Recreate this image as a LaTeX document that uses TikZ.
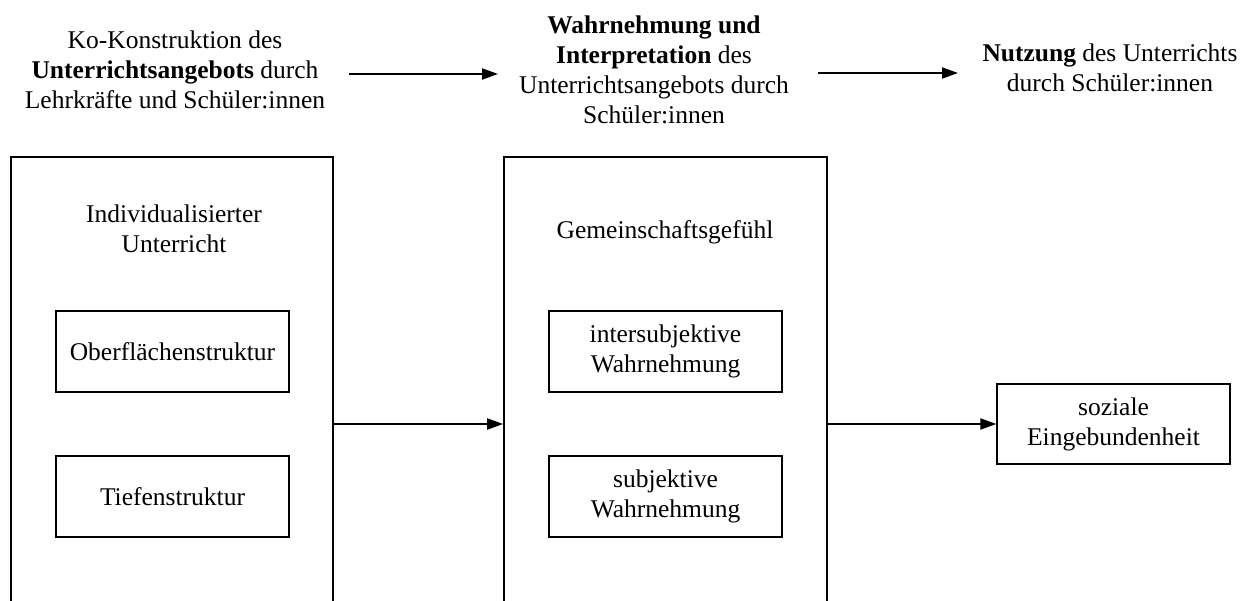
\documentclass[tikz,border=0pt]{standalone}
\usepackage{fontspec}
\setmainfont{Liberation Serif}
\usetikzlibrary{arrows.meta}
\begin{document}
\begin{tikzpicture}[x=1pt,y=-1pt,
  txt/.style={align=center,inner sep=0pt,font=\fontsize{25.5}{30}\selectfont},
  outerbox/.style={draw,line width=1.6pt,minimum width=322pt,minimum height=534pt,inner sep=0pt},
  innerbox/.style={draw,line width=1.3pt,minimum width=233pt,minimum height=81pt,inner sep=0pt,
    align=center,font=\fontsize{25.5}{30}\selectfont},
  arr/.style={line width=2pt,-{Triangle[length=16pt,width=11pt]}}]
\useasboundingbox (0,0) rectangle (1255,601);
\clip (0,0) rectangle (1255,601);

% phase headings
\node[txt] (t1) at (175,70) {Ko-Konstruktion des\\\textbf{Unterrichtsangebots} durch\\Lehrkräfte und Schüler:innen};
\node[txt] (t2) at (654,70) {\textbf{Wahrnehmung und}\\\textbf{Interpretation} des\\Unterrichtsangebots durch\\Schüler:innen};
\node[txt] (t3) at (1110,68) {\textbf{Nutzung} des Unterrichts\\durch Schüler:innen};

\coordinate (a1s) at (349,74);
\coordinate (a1e) at (498,74);
\coordinate (a2s) at (818,73);
\coordinate (a2e) at (958,73);
\draw[arr] (a1s) -- (a1e);
\draw[arr] (a2s) -- (a2e);

% columns
\node[outerbox] (left) at (172,424) {};
\node[outerbox,minimum width=323pt] (mid) at (665.5,424) {};

\node[txt] (lt) at (174,228.5) {Individualisierter\\Unterricht};
\node[innerbox] (ob) at (172.5,351.5) {Oberflächenstruktur};
\node[innerbox] (tf) at (172.5,496.5) {Tiefenstruktur};

\node[txt] (mt) at (665,232) {Gemeinschaftsgefühl};
\node[innerbox] (iw) at (665.5,351.5) {intersubjektive\\Wahrnehmung};
\node[innerbox] (sw) at (665.5,496.5) {subjektive\\Wahrnehmung};

\node[innerbox,minimum height=80pt] (se) at (1113.5,424) {soziale\\Eingebundenheit};

\draw[arr] (left.east) -- (mid.west);
\draw[arr] (mid.east) -- (se.west);
\end{tikzpicture}
\end{document}
